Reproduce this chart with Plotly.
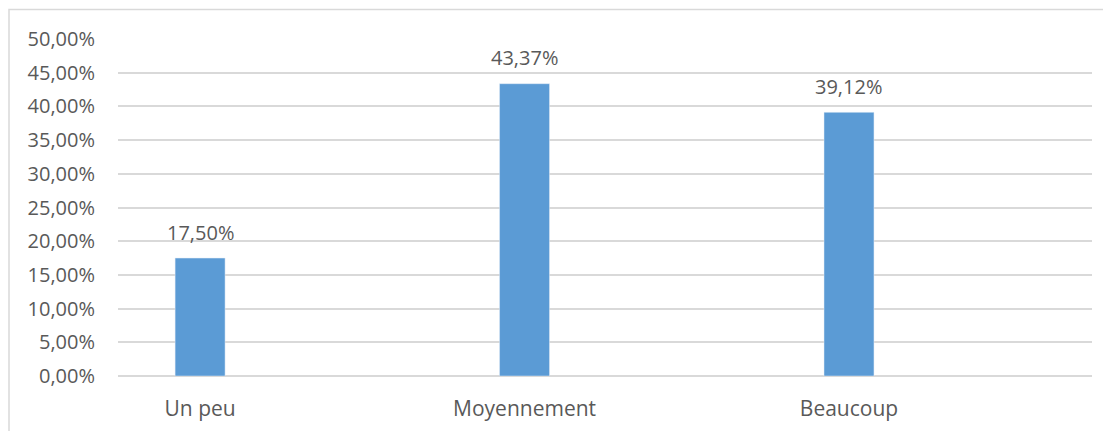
import plotly.graph_objects as go

categories = ["Un peu", "Moyennement", "Beaucoup"]
values = [0.1750, 0.4337, 0.3912]
tick_vals = [0, 0.05, 0.10, 0.15, 0.20, 0.25, 0.30, 0.35, 0.40, 0.45, 0.50]

W, H = 1111, 431
# page has an 8px body offset; margins compensate
L, R, T, B = 110, 27, 31, 63
pw, ph = W - L - R, H - T - B

fam = "Open Sans, Liberation Sans, sans-serif"
num_font = dict(family=fam, size=20, color="#595959")
cat_font = dict(family=fam, size=21, color="#595959")

fig = go.Figure(go.Bar(
    x=categories, y=values, marker_color="#5B9BD5", width=0.154,
    hoverinfo="skip",
))

for c, v in zip(categories, values):
    fig.add_annotation(x=c, y=v, text=f"{v*100:.2f}%".replace(".", ","),
                       showarrow=False, yanchor="middle", yshift=26, font=num_font)

fig.add_shape(type="rect", xref="paper", yref="paper",
              x0=(1 - L) / pw, x1=(W + 10 - L) / pw,
              y0=-(B + 10) / ph, y1=(H - B - 1.5) / ph,
              line=dict(color="#d9d9d9", width=1.5), fillcolor="rgba(0,0,0,0)", layer="below")

fig.update_layout(
    width=W, height=H, margin=dict(l=L, r=R, t=T, b=B, autoexpand=False),
    paper_bgcolor="white", plot_bgcolor="white",
    separators=",.", font=num_font, showlegend=False,
    xaxis=dict(range=[-0.253, 2.749], showgrid=False, showline=False, ticks="",
               ticklabelstandoff=18, tickfont=cat_font, automargin=False),
    yaxis=dict(range=[0, 0.5], tickvals=tick_vals, tickformat=".2%",
               showgrid=True, gridcolor="#d9d9d9", gridwidth=1.5,
               zeroline=True, zerolinecolor="#d9d9d9", zerolinewidth=1.5,
               showline=False, ticks="", ticklabelstandoff=22, tickfont=num_font,
               automargin=False),
)

fig.write_html("out.html")
